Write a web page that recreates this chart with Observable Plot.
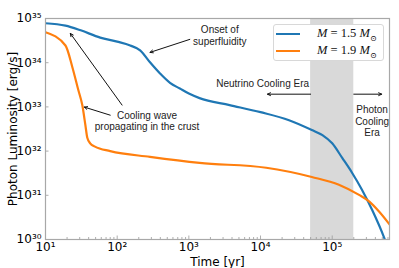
<!DOCTYPE html>
<html><head><meta charset="utf-8">
<script src="https://cdn.jsdelivr.net/npm/d3@7"></script>
<script src="https://cdn.jsdelivr.net/npm/@observablehq/plot@0.6"></script>
<style>
body{margin:0;background:#fff}
#wrap{position:relative;width:399px;height:268px;font-family:"DejaVu Sans",sans-serif}
#legend{position:absolute;left:273px;top:24px;width:111px;height:37px;border:1px solid #d8d8d8;border-radius:3px;background:#fff;box-sizing:border-box}
.row{position:absolute;left:2px;height:14px;display:flex;align-items:center}
.sw{width:24px;height:2.2px;margin-right:17px}
.lab{font-family:"Liberation Serif","DejaVu Serif",serif;font-size:12.5px;color:#111;white-space:nowrap}
.lab i{font-style:italic}
</style>
</head><body><div id="wrap"><div id="legend"></div></div>
<script>
// ---- data ----
const seriesNames = ["M = 1.5 M⊙", "M = 1.9 M⊙"];
const seriesColors = ["#1f77b4", "#ff7f0e"];
const blueTime = [10, 19, 31, 58, 100, 152, 209, 287, 396, 546, 750, 1000, 1410, 3700, 1e4, 2.5e4, 5.2e4, 7.3e4, 1e5, 1.38e5, 1.9e5, 2.6e5, 3.6e5, 5.3e5, 6.3e5];
const blueLum  = [7.8e34, 6.9e34, 5.4e34, 3.7e34, 3.0e34, 2.45e34, 1.9e34, 1.02e34, 5.7e33, 3.5e33, 2.6e33, 2.0e33, 1.58e33, 1.1e33, 7.6e32, 5.0e32, 3.0e32, 2.3e32, 1.5e32, 7.0e31, 3.2e31, 1.34e31, 4.7e30, 1.1e30, 5e29];
const orangeTime = [10, 19, 23.7, 28.7, 32.6, 36, 38.3, 42, 49, 80, 287, 1410, 1.2e4, 5.2e4, 1.24e5, 2.37e5, 3.3e5, 4.5e5, 6.3e5];
const orangeLum  = [4.9e34, 2.45e34, 7.9e33, 2.4e33, 1.1e33, 3.9e32, 2.0e32, 1.5e32, 1.26e32, 1.0e32, 7.4e31, 5.4e31, 4.2e31, 2.6e31, 1.74e31, 1.02e31, 7.2e30, 4.3e30, 2.2e30];
const bandFrom = [5e4], bandTo = [2e5];
const xMajor = [1e1, 1e2, 1e3, 1e4, 1e5];
const yMajor = [1e30, 1e31, 1e32, 1e33, 1e34, 1e35];
const xMinor = [];
for (let e = 1; e <= 5; e++) for (let m = 2; m <= 9; m++) { const v = m * 10 ** e; if (v < 6.3e5) xMinor.push(v); }
// annotations (data units)
const notes = [
  {t: 2700, L: 4.14e34, text: "Onset of\nsuperfluidity"},
  {t: 261, L: 4.8e32, text: "Cooling wave\npropagating in the crust"},
  {t: 1.07e4, L: 3.4e33, text: "Neutrino Cooling Era"},
  {t: 3.6e5, L: 4.8e32, text: "Photon\nCooling\nEra"}
];
const arrows = [
  {t1: 1030, L1: 3.37e34, t2: 287, L2: 1.71e34},
  {t1: 117, L1: 1.1e33, t2: 22.2, L2: 4.6e34},
  {t1: 80, L1: 6.5e32, t2: 34.8, L2: 9.9e32},
  {t1: 5e4, L1: 1.94e33, t2: 1.25e4, L2: 1.94e33},
  {t1: 2e5, L1: 1.94e33, t2: 4.9e5, L2: 1.94e33}
];
// ---- build ----
const blue = blueTime.map((t, i) => ({t, L: blueLum[i]}));
const orange = orangeTime.map((t, i) => ({t, L: orangeLum[i]}));
const band = bandFrom.map((a, i) => ({a, b: bandTo[i]}));
const supMap = {"0":"⁰","1":"¹","2":"²","3":"³","4":"⁴","5":"⁵","6":"⁶","7":"⁷","8":"⁸","9":"⁹"};
const sup = d => "10" + String(Math.round(Math.log10(d))).split("").map(c => supMap[c]).join("");
const W = 399, H = 268, mL = 45, mR = 10, mT = 18, mB = 29;
const pw = W - mL - mR, ph = H - mT - mB;

const chart = Plot.plot({
  width: W, height: H,
  marginLeft: mL, marginRight: mR, marginTop: mT, marginBottom: mB,
  style: {fontFamily: "DejaVu Sans, sans-serif", background: "#fff"},
  x: {type: "log", domain: [10, 6.3e5]},
  y: {type: "log", domain: [1e30, 1e35]},
  marks: [
    Plot.rect(band, {x1: "a", x2: "b", fill: "#d9d9d9"}),
    Plot.line(blue, {x: "t", y: "L", stroke: seriesColors[0], strokeWidth: 2.2, curve: "monotone-x", clip: true}),
    Plot.line(orange, {x: "t", y: "L", stroke: seriesColors[1], strokeWidth: 2.2, curve: "monotone-x", clip: true}),
    Plot.arrow(arrows, {x1: "t1", y1: "L1", x2: "t2", y2: "L2", stroke: "#111", strokeWidth: 1, headLength: 5, headAngle: 50}),
    Plot.text(notes, {x: "t", y: "L", text: "text", fontFamily: "Liberation Sans, Arial, sans-serif", fontSize: 10, fill: "#222", lineHeight: 1.15}),
    Plot.ruleX(xMinor, {stroke: "#999", strokeWidth: 0.8, insetTop: ph - 2}),
    Plot.ruleX(xMajor, {stroke: "#999", strokeWidth: 0.8, insetTop: ph - 3.5}),
    Plot.ruleY(yMajor, {stroke: "#999", strokeWidth: 0.8, insetRight: pw - 3.5}),
    Plot.axisX({ticks: xMajor, tickSize: 0, tickPadding: 3, tickFormat: sup, fontSize: 12, label: "Time [yr]", labelAnchor: "center", labelArrow: "none", labelOffset: 26}),
    Plot.axisY({ticks: yMajor, tickSize: 0, tickPadding: 4, tickFormat: sup, fontSize: 12, label: "Photon Luminosity [erg/s]", labelAnchor: "center", labelArrow: "none", labelOffset: 37}),
    Plot.frame({stroke: "#a8a8a8", strokeWidth: 1.2})
  ]
});
chart.querySelectorAll("g[aria-label*='axis label'] text").forEach(t => t.setAttribute("font-size", "12"));
document.getElementById("wrap").prepend(chart);

const lg = document.getElementById("legend");
seriesNames.forEach((n, i) => {
  const r = document.createElement("div");
  r.className = "row"; r.style.top = (2 + i * 17) + "px";
  const s = document.createElement("div"); s.className = "sw"; s.style.background = seriesColors[i];
  const l = document.createElement("div"); l.className = "lab";
  const parts = n.split(" ");
  l.innerHTML = "<i>" + parts[0] + "</i> = " + parts[2] + " <i>" + parts[3][0] + "</i><sub style='font-size:8px'>" + parts[3].slice(1) + "</sub>";
  r.append(s, l); lg.append(r);
});
</script>
</body></html>
